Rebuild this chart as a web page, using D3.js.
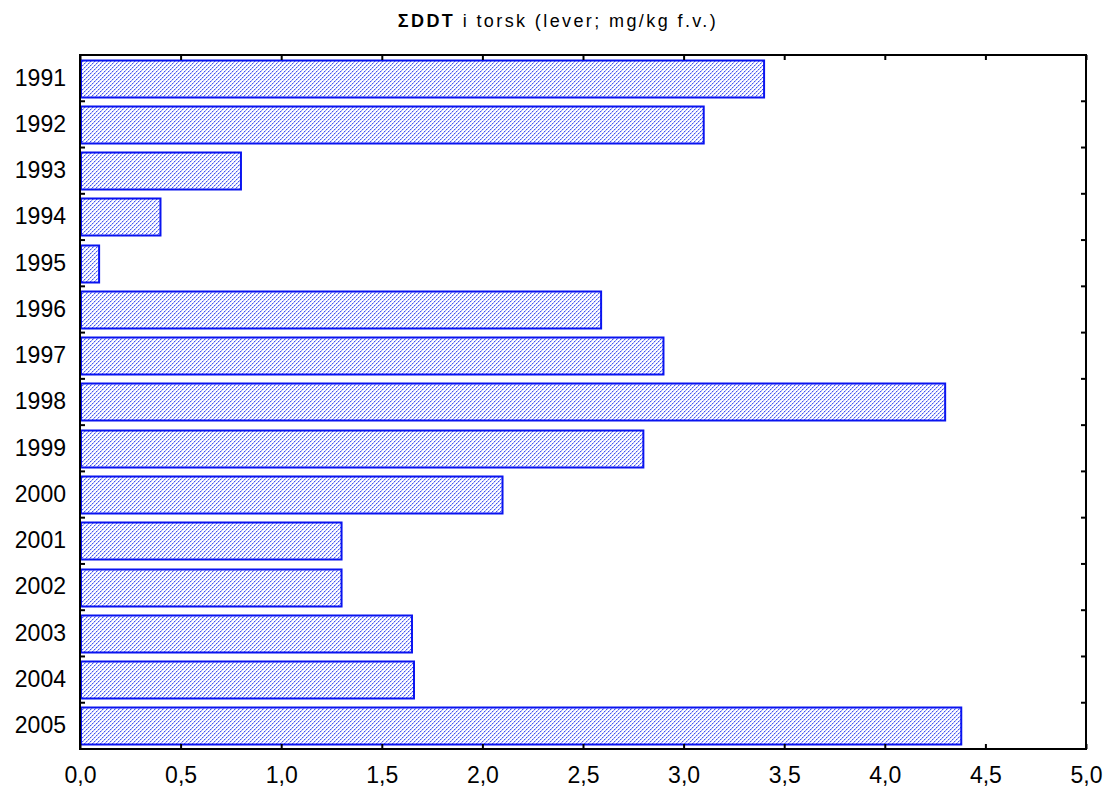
<!DOCTYPE html>
<html>
<head>
<meta charset="utf-8">
<script src="https://cdn.jsdelivr.net/npm/d3@7"></script>
<style>
  body { margin: 0; background: #fff; }
  svg { display: block; }
  text { font-family: "Liberation Sans", Arial, sans-serif; }
</style>
</head>
<body>
<div id="chart"></div>
<script>
const years = ["1991","1992","1993","1994","1995","1996","1997","1998","1999","2000","2001","2002","2003","2004","2005"];
const values = [3.40, 3.10, 0.80, 0.40, 0.095, 2.59, 2.90, 4.30, 2.80, 2.10, 1.30, 1.30, 1.65, 1.66, 4.38];
const xTicks = [0, 0.5, 1.0, 1.5, 2.0, 2.5, 3.0, 3.5, 4.0, 4.5, 5.0];
const titleBold = "\u03A3DDT";
const titleRest = " i torsk (lever; mg/kg f.v.)";

const W = 1109, H = 792;
const m = { left: 80, right: 1086, top: 55, bottom: 749 };

const svg = d3.select("#chart").append("svg").attr("width", W).attr("height", H);

// pattern
const defs = svg.append("defs");
const pat = defs.append("pattern").attr("id", "hatch")
  .attr("patternUnits", "userSpaceOnUse").attr("width", 4).attr("height", 4);
pat.append("rect").attr("width", 4).attr("height", 4).attr("fill", "#ffffff");
const cells = [
  [0,3,"#4455f0"],[1,2,"#9aa2f6"],[2,1,"#4455f0"],[3,0,"#9aa2f6"],
  [1,3,"#c4c8fa"],[3,1,"#c4c8fa"],[0,0,"#dcdffc"],[2,2,"#dcdffc"]
];
cells.forEach(([cx, cy, c]) =>
  pat.append("rect").attr("x", cx).attr("y", cy).attr("width", 1).attr("height", 1).attr("fill", c));

const x = d3.scaleLinear().domain([0, 5]).range([m.left, m.right]);
const y = d3.scaleBand().domain(years).range([m.top, m.bottom]).paddingInner(0.2).paddingOuter(0.1);

// bars
svg.append("g").selectAll("rect").data(years).join("rect")
  .attr("x", x(0) + 1)
  .attr("y", d => Math.round(y(d)) + 0.5)
  .attr("width", (d, i) => x(values[i]) - x(0) - 1)
  .attr("height", Math.round(y.bandwidth()))
  .attr("fill", "url(#hatch)")
  .attr("stroke", "#0a14f0")
  .attr("stroke-width", 2);

// frame
svg.append("rect").attr("x", m.left).attr("y", m.top)
  .attr("width", m.right - m.left).attr("height", m.bottom - m.top)
  .attr("fill", "none").attr("stroke", "#000").attr("stroke-width", 2);

// bottom axis (ticks inward)
const xb = svg.append("g").attr("transform", `translate(0,${m.bottom})`)
  .call(d3.axisBottom(x).tickValues(xTicks).tickSizeInner(-5).tickSizeOuter(0).tickPadding(18)
    .tickFormat(d => d3.format(".1f")(d).replace(".", ",")));
xb.select(".domain").remove();
xb.selectAll("line").attr("stroke-width", 2);
xb.selectAll("text").style("font-size", "23px").attr("fill", "#000");

// top axis ticks inward
const xt = svg.append("g").attr("transform", `translate(0,${m.top})`)
  .call(d3.axisTop(x).tickValues(xTicks).tickSizeInner(-5).tickSizeOuter(0).tickFormat(""));
xt.select(".domain").remove();
xt.selectAll("line").attr("stroke-width", 2);

// left axis labels
const yl = svg.append("g").attr("transform", `translate(${m.left},0)`)
  .call(d3.axisLeft(y).tickSize(0).tickPadding(14));
yl.select(".domain").remove();
yl.selectAll("text").style("font-size", "23px").attr("fill", "#000");

// boundary ticks left and right
const bounds = years.slice(1).map(d => y(d) - y.step() * y.paddingInner() / 2);
svg.append("g").selectAll("line").data(bounds).join("line")
  .attr("x1", m.left).attr("x2", m.left + 5)
  .attr("y1", d => d).attr("y2", d => d)
  .attr("stroke", "#000").attr("stroke-width", 2);
svg.append("g").selectAll("line").data(bounds).join("line")
  .attr("x1", m.right - 5).attr("x2", m.right)
  .attr("y1", d => d).attr("y2", d => d)
  .attr("stroke", "#000").attr("stroke-width", 2);

// title
const t = svg.append("text").attr("x", 558).attr("y", 27).attr("text-anchor", "middle")
  .style("font-size", "18px").style("letter-spacing", "2.4px").attr("fill", "#000");
t.append("tspan").attr("font-weight", "bold").text(titleBold);
t.append("tspan").text(titleRest);
</script>
</body>
</html>
